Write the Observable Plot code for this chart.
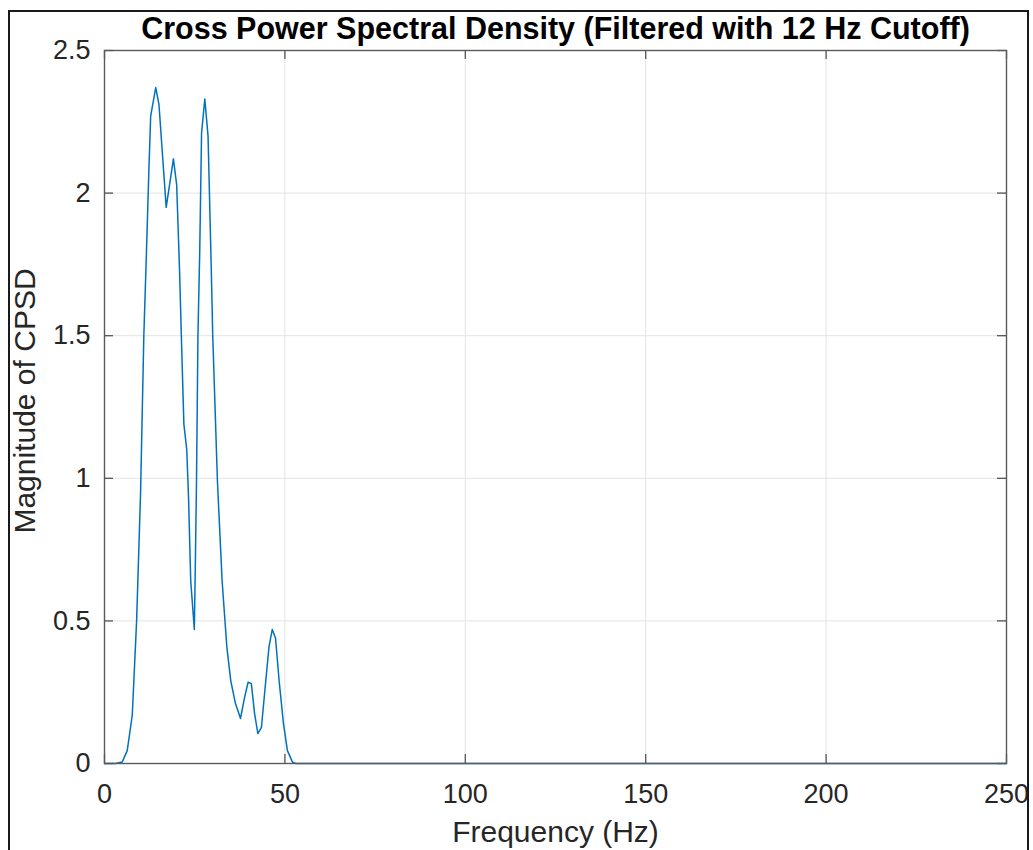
<!DOCTYPE html>
<html>
<head>
<meta charset="utf-8">
<script src="https://cdn.jsdelivr.net/npm/d3@7"></script>
<script src="https://cdn.jsdelivr.net/npm/@observablehq/plot@0.6"></script>
<style>
  html, body { margin: 0; padding: 0; background: #fff; overflow: hidden; }
  #fig { position: relative; width: 1033px; height: 850px; }
  #border { position: absolute; left: 8px; top: 10px; width: 1021px; height: 900px;
            border: 2px solid #1a1a1a; box-sizing: border-box; pointer-events: none; }
  #chart { position: absolute; left: 0; top: 0; }
</style>
</head>
<body>
<div id="fig">
  <div id="chart"></div>
  <div id="border"></div>
</div>
<script>
// Cross power spectral density magnitude (vertices of the computed spectrum)
const freqHz = [0, 3, 4.9, 6.3, 7.7, 8.9, 10.0, 10.9, 11.6, 12.3, 12.8, 14.2, 15.1, 17.1, 19.1, 20.0,
  20.8, 21.3, 22.0, 22.8, 23.3, 23.9, 24.9, 25.2, 25.5, 25.9, 26.4, 26.9, 27.8, 28.7, 29.6, 30.0,
  31.3, 32.6, 33.9, 35.0, 36.3, 37.7, 38.8, 39.8, 40.7, 41.6, 42.5, 43.5, 44.7, 45.6, 46.5, 47.4,
  48.4, 49.6, 50.7, 52.1, 53, 250];
const cpsdMag = [0, 0, 0.005, 0.045, 0.17, 0.50, 0.95, 1.50, 1.78, 2.08, 2.27, 2.37, 2.31, 1.95, 2.12, 2.03,
  1.73, 1.50, 1.19, 1.10, 0.93, 0.64, 0.47, 0.72, 0.99, 1.50, 1.80, 2.21, 2.33, 2.20, 1.73, 1.50,
  0.99, 0.64, 0.41, 0.29, 0.21, 0.158, 0.23, 0.285, 0.28, 0.175, 0.105, 0.127, 0.29, 0.41, 0.47, 0.44,
  0.29, 0.14, 0.045, 0.005, 0, 0];

const xTicks = [0, 50, 100, 150, 200, 250];
const yTicks = [0, 0.5, 1, 1.5, 2, 2.5];

const titleText = "Cross Power Spectral Density (Filtered with 12 Hz Cutoff)";
const xLabel = "Frequency (Hz)";
const yLabel = "Magnitude of CPSD";

const spectrum = freqHz.map((f, i) => ({f, m: cpsdMag[i]}));

const W = 1033, H = 850;
const mL = 104, mR = 27, mT = 50, mB = 87;
const frameW = W - mL - mR, frameH = H - mT - mB;
const tickLen = 9;
const axisColor = "#262626";

const chart = Plot.plot({
  width: W,
  height: H,
  marginLeft: mL,
  marginRight: mR,
  marginTop: mT,
  marginBottom: mB,
  style: {fontFamily: "'Liberation Sans', Arial, Helvetica, sans-serif", fontSize: "27px", color: axisColor, background: "transparent"},
  x: {domain: [0, 250]},
  y: {domain: [0, 2.5]},
  marks: [
    Plot.gridX(xTicks, {stroke: "#e3e3e3", strokeOpacity: 1, strokeWidth: 1}),
    Plot.gridY(yTicks, {stroke: "#e3e3e3", strokeOpacity: 1, strokeWidth: 1}),
    Plot.line(spectrum, {x: "f", y: "m", stroke: "#0072BD", strokeWidth: 1.5}),
    // inward ticks on all four sides
    Plot.ruleX(xTicks, {stroke: "#555", strokeWidth: 1.3, insetTop: frameH - tickLen}),
    Plot.ruleX(xTicks, {stroke: "#555", strokeWidth: 1.3, insetBottom: frameH - tickLen}),
    Plot.ruleY(yTicks, {stroke: "#555", strokeWidth: 1.3, insetRight: frameW - tickLen}),
    Plot.ruleY(yTicks, {stroke: "#555", strokeWidth: 1.3, insetLeft: frameW - tickLen}),
    Plot.frame({stroke: "#5a5a5a", strokeWidth: 1.4}),
    Plot.axisX(xTicks, {tickSize: 0, tickPadding: 20, label: null, fontSize: 27, fill: axisColor}),
    Plot.axisY(yTicks, {tickSize: 0, tickPadding: 14, label: null, fontSize: 27, fill: axisColor,
      tickFormat: d => String(d)}),
    Plot.text([xLabel], {frameAnchor: "bottom", lineAnchor: "top", dy: 57, fontSize: 30, fill: axisColor}),
    Plot.text([yLabel], {frameAnchor: "left", textAnchor: "middle", lineAnchor: "top", rotate: -90, dx: -91, dy: -6, fontSize: 30, fill: axisColor}),
    Plot.text([titleText], {frameAnchor: "top", lineAnchor: "top", dy: -33, fontSize: 30.5, fontWeight: "bold", fill: "#000"})
  ]
});

document.getElementById("chart").appendChild(chart);
</script>
</body>
</html>
